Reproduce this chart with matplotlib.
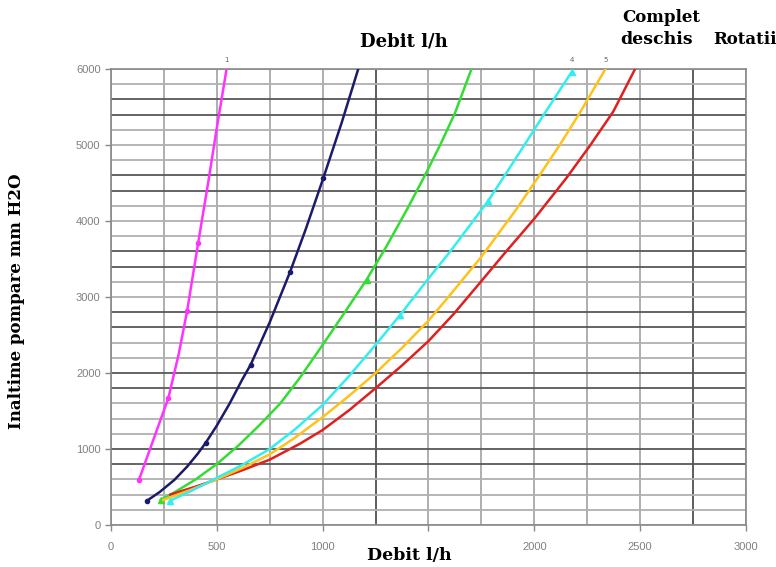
import matplotlib
matplotlib.use('Agg')
import matplotlib.pyplot as plt

# Data (debit l/h, inaltime mm H2O)
q1 = [132, 200, 271, 320, 360, 412, 460, 499, 546]
h1 = [593, 1120, 1670, 2250, 2822, 3715, 4520, 5209, 6000]

q2 = [168, 230, 300, 360, 410, 447, 500, 560, 620, 660, 750, 846, 920, 1003, 1090, 1168]
h2 = [316, 434, 595, 769, 939, 1080, 1308, 1596, 1914, 2110, 2668, 3330, 3892, 4564, 5295, 6000]

q3 = [235, 300, 400, 499, 600, 700, 800, 893, 1000, 1100, 1208, 1300, 1400, 1483, 1555, 1625, 1703]
h3 = [330, 430, 600, 800, 1040, 1310, 1600, 1940, 2370, 2780, 3230, 3660, 4160, 4600, 5000, 5420, 6000]

q4 = [279, 380, 500, 620, 750, 870, 1000, 1125, 1250, 1365, 1499, 1603, 1782, 1900, 2045, 2176]
h4 = [320, 450, 620, 790, 1000, 1260, 1580, 1960, 2370, 2760, 3240, 3600, 4264, 4770, 5400, 5960]

q5 = [246, 370, 499, 620, 750, 870, 1000, 1125, 1250, 1375, 1500, 1594, 1750, 1914, 2024, 2120, 2214, 2336]
h5 = [330, 455, 600, 750, 930, 1150, 1420, 1700, 2000, 2330, 2690, 3000, 3530, 4150, 4600, 5000, 5420, 6000]

q6 = [280, 400, 500, 620, 750, 893, 1000, 1125, 1250, 1375, 1500, 1620, 1750, 1867, 2000, 2150, 2260, 2373, 2476]
h6 = [400, 505, 600, 720, 860, 1070, 1250, 1510, 1800, 2100, 2420, 2780, 3210, 3600, 4030, 4560, 4980, 5440, 6000]

x_ticks = [0, 500, 1000, 1500, 2000, 2500, 3000]
x_tick_labels = ['0', '500', '1000', '', '2000', '2500', '3000']
y_ticks = [0, 1000, 2000, 3000, 4000, 5000, 6000]

fig = plt.figure(figsize=(7.76, 5.67), dpi=100)
ax = fig.add_axes([111/776, 42/567, 635/776, 456/567])

# grid
for v in range(0, 3001, 250):
    dark = v in (1250, 2750)
    ax.axvline(v, color='#505050' if dark else '#a8a8a8', lw=1.3, zorder=1)
for v in range(0, 6001, 200):
    dark = v in (800, 1000, 1800, 2000, 2600, 2800, 3400, 3600, 4400, 4600, 5400, 5600)
    ax.axhline(v, color='#585858' if dark else '#b0b0b0', lw=1.3, zorder=1)

ax.plot(q1, h1, color='#ff33ff', lw=1.8, marker='o', ms=3, markevery=[0, 2, 4, 5], zorder=3)
ax.plot(q2, h2, color='#1b1b6b', lw=1.8, marker='o', ms=3, markevery=[0, 5, 9, 11, 13], zorder=3)
ax.plot(q3, h3, color='#33dd33', lw=1.8, marker='^', ms=4, markevery=[0, 10], zorder=3)
ax.plot(q6, h6, color='#e02020', lw=1.8, zorder=3)
ax.plot(q5, h5, color='#ffc21a', lw=1.8, zorder=3)
ax.plot(q4, h4, color='#33eeee', lw=1.8, marker='^', ms=4, markevery=[0, 9, 12, 15], zorder=3)

ax.set_xlim(0, 3000)
ax.set_ylim(0, 6000)
ax.set_xticks(x_ticks)
ax.set_xticklabels(x_tick_labels)
ax.set_yticks(y_ticks)
ax.tick_params(colors='#888888', labelcolor='#808080', labelsize=8, length=4, width=1)
ax.tick_params(axis='x', pad=8)
for lab in ax.get_xticklabels() + ax.get_yticklabels():
    lab.set_family('Liberation Sans')
for s in ax.spines.values():
    s.set_color('#888888')
    s.set_linewidth(1.2)

# curve numbers
ax.text(q1[-1], 6080, '1', fontsize=5, color='#666666', ha='center', va='bottom')
ax.text(q4[-1], 6080, '4', fontsize=5, color='#666666', ha='center', va='bottom')
ax.text(q5[-1], 6080, '5', fontsize=5, color='#666666', ha='center', va='bottom')

bold = dict(family='DejaVu Serif', fontweight='bold', color='black')
fig.text(17/776, 1 - 301/567, 'Inaltime pompare mm H2O', rotation=90, ha='center', va='center', fontsize=12, **bold)
fig.text(409/776, 1 - 556/567, 'Debit l/h', ha='center', va='center', fontsize=12.5, **bold)
fig.text(404/776, 1 - 42/567, 'Debit l/h', ha='center', va='center', fontsize=13, **bold)
fig.text(661/776, 1 - 17/567, 'Complet', ha='center', va='center', fontsize=12, **bold)
fig.text(657/776, 1 - 40/567, 'deschis', ha='center', va='center', fontsize=12.5, **bold)
fig.text(713/776, 1 - 40/567, 'Rotatii', ha='left', va='center', fontsize=12, **bold)

fig.savefig('out.png', dpi=100)
